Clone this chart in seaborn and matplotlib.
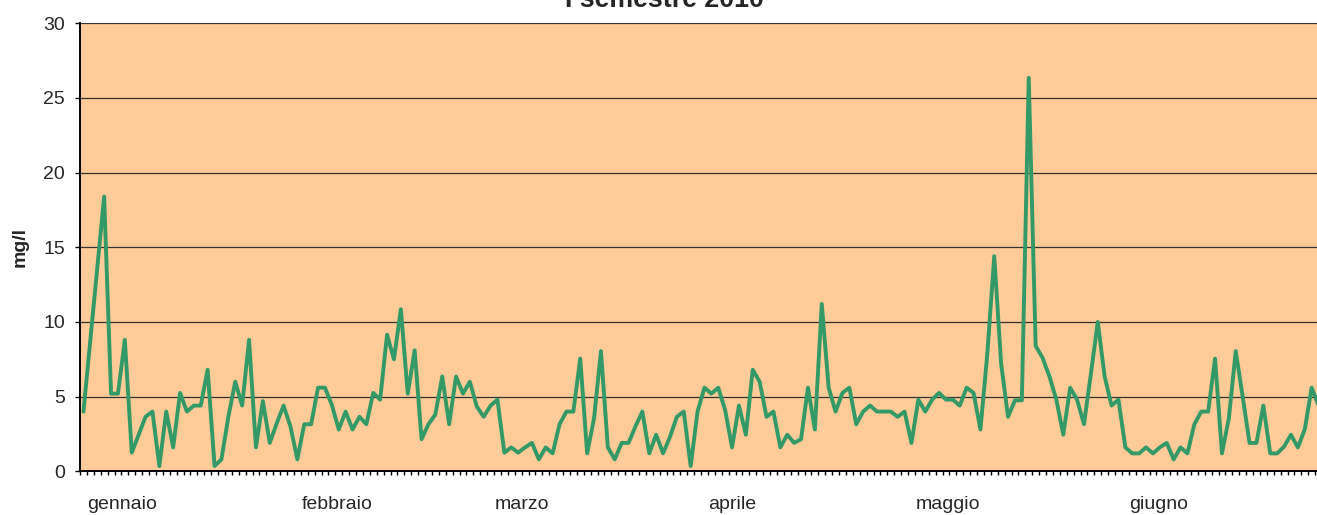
import numpy as np
import pandas as pd
import matplotlib
matplotlib.use("Agg")
import matplotlib.pyplot as plt
import seaborn as sns

# Daily concentration, first half of 2010 (mg/l)
months = ["gennaio", "febbraio", "marzo", "aprile", "maggio", "giugno"]
month_days = [31, 28, 31, 30, 31, 30]

gennaio = [4.0, 8.8, 13.6, 18.4, 5.2, 5.2, 8.8, 1.25, 2.45, 3.65, 4.0, 0.35, 4.0,
           1.6, 5.25, 4.0, 4.4, 4.4, 6.8, 0.35, 0.8, 3.65, 6.0, 4.4, 8.8, 1.6,
           4.7, 1.9, 3.2, 4.4, 3.0]
febbraio = [0.8, 3.15, 3.15, 5.6, 5.6, 4.45, 2.8, 4.0, 2.8, 3.65, 3.15, 5.25,
            4.8, 9.15, 7.5, 10.85, 5.2, 8.1, 2.15, 3.15, 3.8, 6.35, 3.15, 6.35,
            5.2, 6.0, 4.35, 3.65]
marzo = [4.4, 4.8, 1.25, 1.6, 1.25, 1.6, 1.9, 0.8, 1.6, 1.2, 3.15, 4.0, 4.0,
         7.55, 1.2, 3.55, 8.05, 1.6, 0.8, 1.9, 1.9, 3.0, 4.0, 1.2, 2.45, 1.2,
         2.3, 3.65, 4.0, 0.35, 4.0]
aprile = [5.6, 5.2, 5.6, 4.1, 1.6, 4.4, 2.45, 6.8, 6.0, 3.65, 4.0, 1.6, 2.45,
          1.9, 2.15, 5.6, 2.8, 11.2, 5.6, 4.0, 5.25, 5.6, 3.15, 4.0, 4.4, 4.0,
          4.0, 4.0, 3.65, 4.0]
maggio = [1.9, 4.8, 4.0, 4.8, 5.25, 4.8, 4.8, 4.4, 5.6, 5.25, 2.8, 7.9, 14.4,
          7.2, 3.65, 4.75, 4.75, 26.35, 8.4, 7.6, 6.35, 4.8, 2.45, 5.6, 4.8,
          3.15, 6.5, 10.0, 6.35, 4.4, 4.8]
giugno = [1.6, 1.2, 1.2, 1.6, 1.2, 1.6, 1.9, 0.8, 1.6, 1.2, 3.15, 4.0, 4.0,
          7.55, 1.2, 3.55, 8.05, 5.0, 1.9, 1.9, 4.4, 1.2, 1.2, 1.65, 2.45, 1.6,
          2.8, 5.6, 4.4, 4.0]

title_text = "I semestre 2010"
y_label = "mg/l"
y_ticks = [0, 5, 10, 15, 20, 25, 30]

values = gennaio + febbraio + marzo + aprile + maggio + giugno
df = pd.DataFrame({"giorno": np.arange(len(values)), "valore": values})

sns.set_style("white")
plt.rcParams["font.family"] = ["Liberation Sans", "DejaVu Sans"]

W, H = 1317, 515
fig = plt.figure(figsize=(W / 100, H / 100), dpi=100)
fig.patch.set_facecolor("white")

n = len(values)
step = 6.9  # pixels per day
ax = fig.add_axes([80 / W, (H - 471.3) / H, n * step / W, 448 / H])
ax.set_facecolor("#FFCC99")

sns.lineplot(data=df, x="giorno", y="valore", ax=ax, color="#339966",
             linewidth=2.8, legend=False)

ax.set_xlim(-0.5, n - 0.5)
ax.set_ylim(0, 30)
ax.set_yticks(y_ticks)
ax.yaxis.grid(True, color="#333333", linewidth=0.9)
ax.xaxis.grid(False)
ax.set_axisbelow(True)

# y axis
ax.tick_params(axis="y", direction="out", length=3.6, width=1, pad=7.2,
               labelsize=14, color="black", left=True)

# day separators as minor ticks, month names as left-aligned major labels
ax.set_xticks(np.arange(-0.5, n, 1), minor=True)
starts = np.cumsum([0] + month_days[:-1])
ax.set_xticks(starts + 0.6)
ax.set_xticklabels(months, ha="left")
ax.tick_params(axis="x", which="major", length=0, pad=17.8, labelsize=14)
ax.tick_params(axis="x", which="minor", direction="out", length=3.2, width=1,
               color="black", bottom=True)

for side in ("top", "right"):
    ax.spines[side].set_visible(False)
for side in ("left", "bottom"):
    ax.spines[side].set_color("black")
    ax.spines[side].set_linewidth(1.4)

ax.set_xlabel("")
ax.set_ylabel(y_label, fontsize=14, fontweight="bold", va="center")
ax.yaxis.set_label_coords((20 - 80) / (n * step), 0.5)

fig.text(664 / W, 1 - 7 / H, title_text, ha="center", va="baseline",
         fontsize=19.3, fontweight="bold")

fig.savefig("out.png", dpi=100, facecolor="white")
